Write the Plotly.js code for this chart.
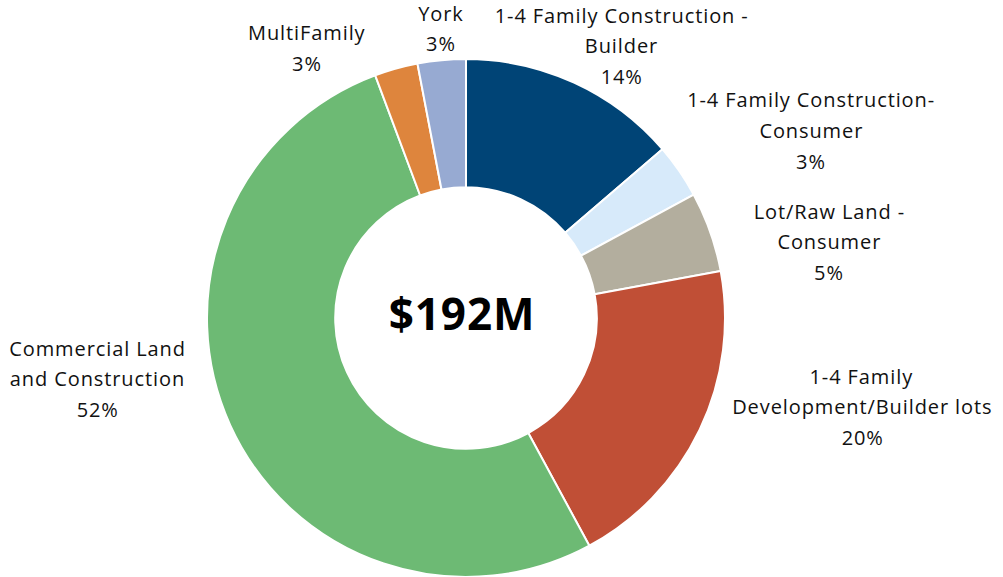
<!DOCTYPE html>
<html><head><meta charset="utf-8">
<script src="https://cdn.plot.ly/plotly-3.0.1.min.js"></script>
<style>html,body{margin:0;padding:0;background:#fff}#chart{width:1003px;height:577px}
#chart .annotation-text{letter-spacing:0.9px}</style>
</head><body><div id="chart"></div>
<script>
var categories = ["1-4 Family Construction -<br>Builder", "1-4 Family Construction-<br>Consumer", "Lot/Raw Land -<br>Consumer", "1-4 Family<br>Development/Builder lots", "Commercial Land<br>and Construction", "MultiFamily", "York"];
var shares = [13.7, 3.4, 5.0, 20.0, 52.2, 2.7, 3.0];
var colors = ["#004476", "#d7eafa", "#b3ae9e", "#c04f36", "#6dba74", "#de853d", "#97aad2"];
var centerText = "$192M";

var W = 1003, H = 577;
var labelPos = [[621, 15], [811, 100], [829, 211], [862, 376], [97, 348], [307, 33], [441, 13]];
var lineGap = 30.5;
var total = shares.reduce(function(a,b){return a+b;},0);
var annotations = [];
var font = "'Open Sans', Lato, sans-serif";
categories.forEach(function(c, i){
  var lines = c.split("<br>");
  lines.push(Math.round(shares[i]/total*100) + "%");
  lines.forEach(function(t, j){
    annotations.push({xref:"paper", yref:"paper", x: labelPos[i][0]/W, y: 1 - (labelPos[i][1] + j*lineGap)/H,
      xanchor:"center", yanchor:"middle", showarrow:false, text:t,
      font:{family:font, size:20, color:"#111"}});
  });
});
annotations.push({xref:"paper", yref:"paper", x:462/W, y:1-313/H, xanchor:"center", yanchor:"middle",
  showarrow:false, text:"<b>"+centerText+"</b>", font:{family:font, size:44, color:"#000"}});

var cx = 466, cy = 318, R = 259;
var trace = {
  type:"pie", values: shares, labels: categories, sort:false, direction:"clockwise", rotation:0,
  hole:0.505, textinfo:"none", hoverinfo:"label+percent",
  marker:{colors: colors, line:{color:"#ffffff", width:2}},
  domain:{x:[(cx-R)/W, (cx+R)/W], y:[1-(cy+R)/H, 1-(cy-R)/H]}
};
Plotly.newPlot("chart", [trace], {
  width: W, height: H, margin:{l:0,r:0,t:0,b:0}, showlegend:false,
  paper_bgcolor:"#fff", annotations: annotations
}, {displayModeBar:false, staticPlot:true});
</script></body></html>
